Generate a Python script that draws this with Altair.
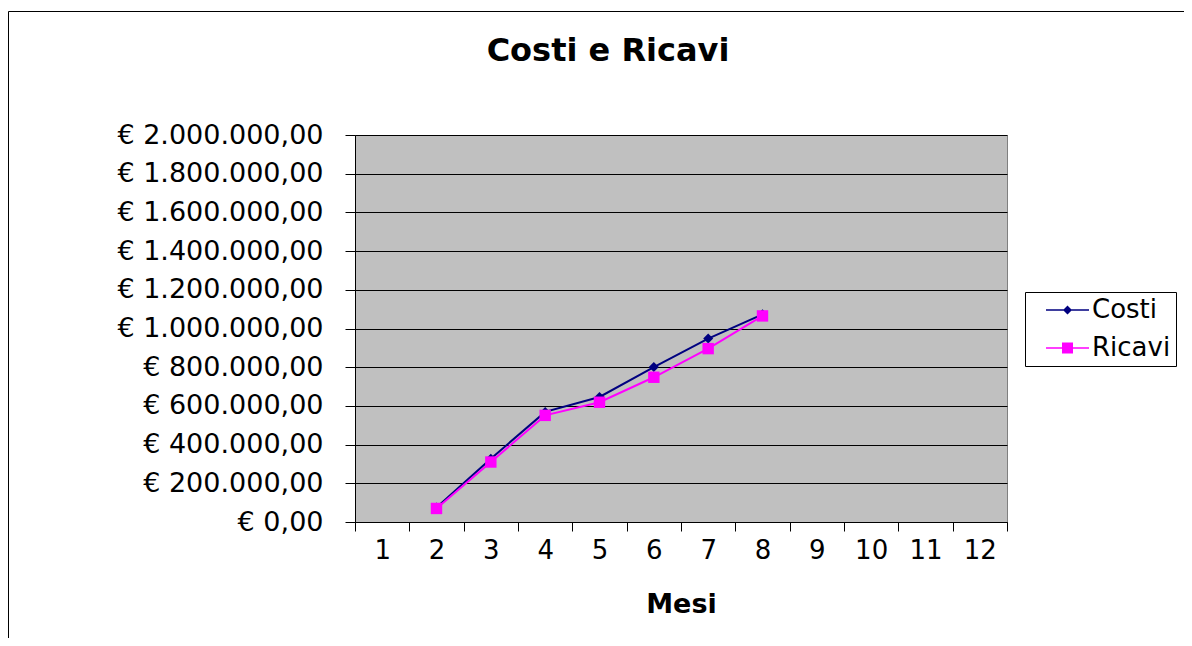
import altair as alt
import pandas as pd

# --- data ---
months = [2, 3, 4, 5, 6, 7, 8]
costi = [75000, 327000, 569000, 646000, 801000, 948000, 1073000]
ricavi = [70000, 310000, 551000, 619000, 748000, 896000, 1065000]
categories = [str(m) for m in range(1, 13)]
y_ticks = list(range(0, 2000001, 200000))
series_names = ["Costi", "Ricavi"]
series_colors = ["#000080", "#FF00FF"]

df = pd.DataFrame({
    "Mese": [str(m) for m in months] * 2,
    "Valore": costi + ricavi,
    "Serie": [series_names[0]] * len(months) + [series_names[1]] * len(months),
})

FONT = "DejaVu Sans"

# legend symbols: a line with the series marker on it (unit = half of sqrt(symbolSize))
diamond_path = "M-2.15,-0.07H2.15V0.07H-2.15ZM0,-0.45L0.45,0L0,0.45L-0.45,0Z"
square_path = "M-2.15,-0.07H2.15V0.07H-2.15ZM-0.55,-0.55H0.55V0.55H-0.55Z"

legend = alt.Legend(
    title=None,
    orient="none",
    legendX=670,
    legendY=157,
    direction="vertical",
    labelFont=FONT,
    labelFontSize=26,
    labelColor="black",
    labelLimit=300,
    symbolSize=400,
    symbolStrokeWidth=0,
    symbolOpacity=1,
    strokeColor="black",
    fillColor="white",
    padding=5,
    rowPadding=12,
    labelOffset=11.5,
    symbolOffset=24.5,
)

color_scale = alt.Scale(domain=series_names, range=series_colors)
color = alt.Color("Serie:N", scale=color_scale, legend=legend)

x_enc = alt.X(
    "Mese:O",
    scale=alt.Scale(type="band", domain=categories, paddingInner=0, paddingOuter=0),
    sort=categories,
    axis=alt.Axis(
        title="Mesi",
        labelAngle=0,
        tickBand="extent",
        tickSize=9,
        labelPadding=6,
        titlePadding=28,
        titleFont=FONT,
        titleFontSize=27,
        titleFontWeight="bold",
        titleColor="black",
        grid=False,
    ),
)

y_enc = alt.Y(
    "Valore:Q",
    scale=alt.Scale(domain=[0, 2000000], nice=False),
    axis=alt.Axis(
        title=None,
        values=y_ticks,
        tickSize=10,
        labelPadding=22,
        labelLimit=400,
        labelFontSize=27,
        grid=True,
        labelExpr="'€ ' + replace(format(datum.value, ','), regexp(',', 'g'), '.') + ',00'",
    ),
)

frame = alt.Chart(pd.DataFrame({"k": [0]})).mark_rect(
    fill="transparent", stroke="black", strokeWidth=1
).encode(
    x=alt.value(-346.5), x2=alt.value(1000), y=alt.value(-123.5), y2=alt.value(700)
)

lines = alt.Chart(df).mark_line(strokeWidth=2).encode(
    x=x_enc, y=y_enc, color=color, detail="Serie:N"
)

points_costi = alt.Chart(df).transform_filter(
    alt.datum.Serie == series_names[0]
).mark_point(filled=True, opacity=1, shape="diamond", size=100).encode(
    x=x_enc, y=y_enc, color=color
)

points_ricavi = alt.Chart(df).transform_filter(
    alt.datum.Serie == series_names[1]
).mark_point(filled=True, opacity=1, shape="square", size=130).encode(
    x=x_enc, y=y_enc, color=color
)

legend_layer = alt.Chart(df).mark_point(filled=True, opacity=0).encode(
    x=x_enc,
    y=y_enc,
    color=color,
    shape=alt.Shape("Serie:N", scale=alt.Scale(domain=series_names, range=[diamond_path, square_path]), legend=legend),
)

chart = alt.layer(frame, lines, points_costi, points_ricavi, legend_layer).properties(
    width=652,
    height=387,
    title=alt.TitleParams(
        "Costi e Ricavi",
        font=FONT,
        fontSize=32,
        fontWeight="bold",
        color="black",
        anchor="middle",
        frame="group",
        dx=-73,
        offset=-57,
    ),
    autosize=alt.AutoSizeParams(type="none"),
    padding={"left": 347, "top": 127, "right": 177, "bottom": 116},
    background="white",
).configure_view(
    fill="#C0C0C0", stroke="#808080", strokeWidth=1
).configure_axis(
    domainColor="black",
    domainWidth=1,
    tickColor="black",
    gridColor="black",
    gridWidth=1,
    labelColor="black",
    labelFont=FONT,
    labelFontSize=26,
)

chart.save("out.html", embed_options={"renderer": "svg", "actions": False})
